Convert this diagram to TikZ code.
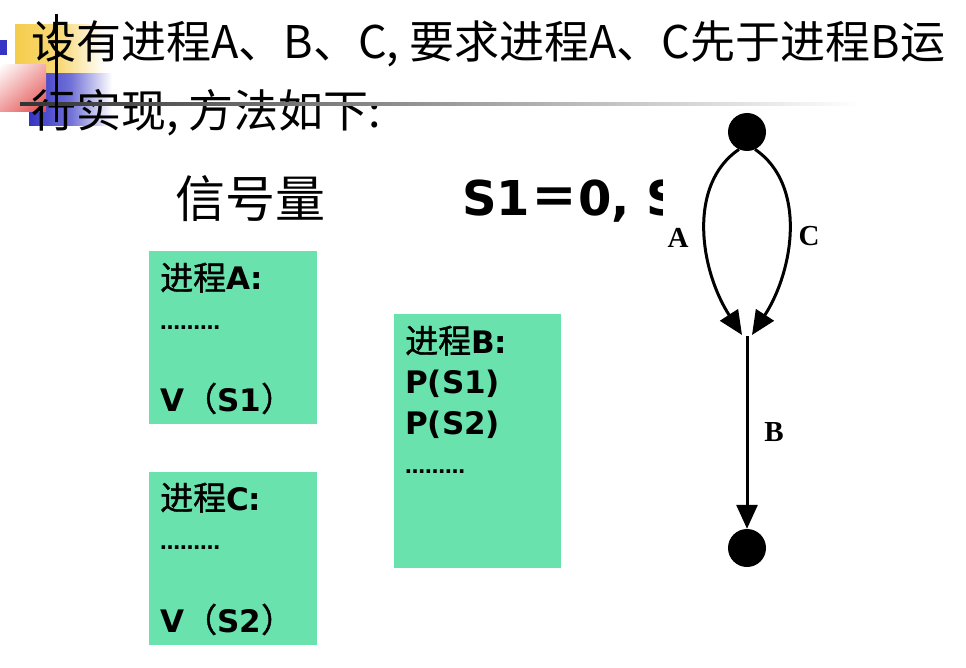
\documentclass[tikz,border=0pt]{standalone}
\usepackage{fontspec}
\newfontfamily\cjk{Noto Sans CJK SC}
\newfontfamily\cjkm{Noto Sans CJK SC}[FakeBold=1.2]
\newfontfamily\dv{DejaVu Sans}
\newfontfamily\tms{Liberation Serif}
\usetikzlibrary{arrows.meta,shadings}
\definecolor{boxgreen}{HTML}{69E2AE}
\definecolor{decoyellow}{HTML}{F5CD4C}
\definecolor{decoblue}{HTML}{3434C6}
\definecolor{decored}{HTML}{E24848}
\tikzset{
  procbox/.style={fill=boxgreen, draw=none, anchor=north west, inner sep=0pt},
  boxtxt/.style={anchor=base west, inner sep=0pt, font=\fontsize{31}{36}\selectfont},
  dotstxt/.style={anchor=base west, inner sep=0pt, font=\dv\bfseries\fontsize{20}{24}\selectfont},
  titletxt/.style={anchor=base west, inner sep=0pt, font=\cjk\fontsize{45}{54}\selectfont},
  vert/.style={circle, fill=black, draw=none, minimum size=38pt, inner sep=0pt},
  edge/.style={line width=3pt, -{Triangle[length=24pt,width=21pt]}},
  elabel/.style={inner sep=0pt, font=\tms\bfseries\fontsize{29}{34}\selectfont}
}
\newcommand{\cj}[1]{{\cjkm\fontsize{33}{36}\selectfont #1}}
\begin{document}
\begin{tikzpicture}[x=1pt,y=-1pt]
\useasboundingbox (0,0) rectangle (966,668);
\fill[white] (0,0) rectangle (966,668);
% decoration
\shade[left color=decoyellow, right color=white, middle color=decoyellow!75!white] (15,25) rectangle (105,74);
\shade[left color=decoblue, right color=white, middle color=decoblue!70!white] (29,74) rectangle (112,126);
\shade[upper left=white, lower right=decored, upper right=decored!45!white, lower left=decored!55!white] (0,65) rectangle (46,112);
\fill[decoblue] (0,40) rectangle (7,55);
% title
\node[titletxt] (t1) at (31,59) {设有进程A、B、C, 要求进程A、C先于进程B运};
\node[titletxt] (t2) at (31,128) {行实现,\hspace{10pt}方法如下:};
\shade[left color=black!80, right color=white] (20,102.5) rectangle (860,105.5);
\draw[line width=3pt] (56,14) -- (56,122);
% semaphore line
\node[anchor=base west, inner sep=0pt, font=\cjk\fontsize{50}{60}\selectfont] (sem) at (175,218) {信号量};
\node[anchor=base west, inner sep=0pt, font=\dv\bfseries\fontsize{48}{56}\selectfont] (semval) at (462,216) {S1{\cjk\bfseries ＝}0, S};
% process boxes
\node[procbox, minimum width=168pt, minimum height=173pt] (boxA) at (149,251) {};
\node[procbox, minimum width=168pt, minimum height=173pt] (boxC) at (149,472) {};
\node[procbox, minimum width=167pt, minimum height=254pt] (boxB) at (394,314) {};
\node[boxtxt] (a1) at (160,290) {\cj{进程}{\dv\bfseries A:}};
\node[dotstxt] (a2) at (160,329) {………};
\node[boxtxt] (a3) at (160,411) {{\dv\bfseries V}\cj{（}{\dv\bfseries S1}\cj{）}};
\node[boxtxt] (b1) at (405,353) {\cj{进程}{\dv\bfseries B:}};
\node[boxtxt] (b2) at (405,393) {\dv\bfseries P(S1)};
\node[boxtxt] (b3) at (405,434) {\dv\bfseries P(S2)};
\node[dotstxt] (b4) at (405,473) {………};
\node[boxtxt] (c1) at (160,510) {\cj{进程}{\dv\bfseries C:}};
\node[dotstxt] (c2) at (160,549) {………};
\node[boxtxt] (c3) at (160,632) {{\dv\bfseries V}\cj{（}{\dv\bfseries S2}\cj{）}};
% precedence graph (picture on white ground)
\fill[white] (663,112) rectangle (870,585);
\node[vert] (top) at (747,132) {};
\node[vert] (bot) at (747,548) {};
\coordinate (jl) at (742,335);
\coordinate (jr) at (752,335);
\coordinate (j) at (747,336);
\draw[edge] (top.245) .. controls (687,185) and (700,270) .. (jl);
\draw[edge] (top.295) .. controls (807,185) and (794,270) .. (jr);
\draw[edge] (j) -- (bot.north);
\node[elabel] (la) at (678,238) {A};
\node[elabel] (lc) at (809,236) {C};
\node[elabel] (lb) at (774,432) {B};
\end{tikzpicture}
\end{document}
